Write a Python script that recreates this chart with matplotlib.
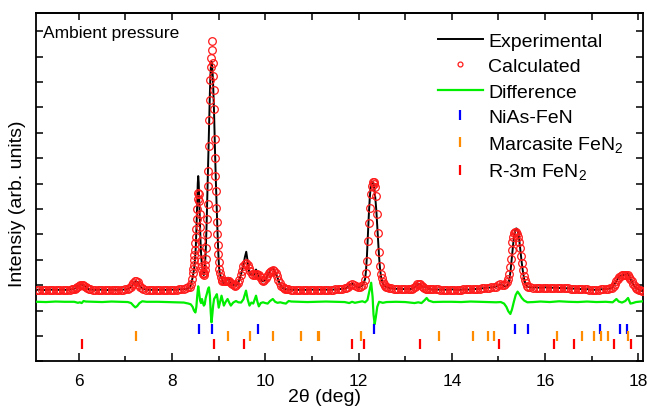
import matplotlib
matplotlib.use("Agg")
import matplotlib.pyplot as plt
from matplotlib.ticker import MultipleLocator

plt.rcParams['font.family'] = ['Liberation Sans', 'DejaVu Sans']
plt.rcParams['mathtext.default'] = 'regular'

# 2theta grid (deg), observed and calculated profiles (arb. units)
two_theta = [
    5.10, 5.15, 5.20, 5.25, 5.30, 5.35, 5.40, 5.45, 5.50, 5.55, 5.60, 5.65, 5.70, 5.75, 5.80, 5.85,
    5.88, 5.91, 5.94, 5.97, 6.00, 6.03, 6.06, 6.09, 6.12, 6.15, 6.18, 6.21, 6.24,
    6.30, 6.35, 6.40, 6.45, 6.50, 6.55, 6.60, 6.65, 6.70, 6.75, 6.80, 6.85, 6.90, 6.95, 7.00, 7.05,
    7.08, 7.11, 7.14, 7.17, 7.20, 7.23, 7.26, 7.29, 7.32, 7.35, 7.38,
    7.45, 7.50, 7.55, 7.60, 7.65, 7.70, 7.75, 7.80, 7.85, 7.90, 7.95, 8.00, 8.05, 8.10, 8.15, 8.20, 8.25, 8.30, 8.35,
    8.38, 8.40, 8.42,
    8.44, 8.45, 8.46, 8.47, 8.48, 8.49, 8.50, 8.51, 8.52, 8.53, 8.54, 8.55, 8.56, 8.57, 8.58, 8.59, 8.60, 8.61, 8.62, 8.63,
    8.64, 8.65, 8.66, 8.67, 8.68, 8.69, 8.70, 8.71, 8.72, 8.73, 8.74, 8.75, 8.76, 8.77, 8.78, 8.79, 8.80, 8.81, 8.82, 8.83,
    8.84, 8.85, 8.86, 8.87, 8.88, 8.89, 8.90, 8.91, 8.92, 8.93, 8.94, 8.95, 8.96, 8.97, 8.98, 8.99, 9.00, 9.01, 9.02,
    9.04, 9.06, 9.08,
    9.11, 9.14, 9.17, 9.20, 9.23, 9.26, 9.29, 9.32, 9.35, 9.38, 9.41, 9.44, 9.47, 9.50, 9.53, 9.56,
    9.59, 9.62, 9.65, 9.68, 9.71, 9.74, 9.77, 9.80, 9.83, 9.86, 9.89, 9.92, 9.95, 9.98, 10.01, 10.04,
    10.07, 10.10, 10.13, 10.16, 10.19, 10.22, 10.25, 10.28, 10.31, 10.34, 10.37, 10.40, 10.43, 10.46, 10.49,
    10.55, 10.60, 10.65, 10.70, 10.75, 10.80, 10.85, 10.90, 10.95, 11.00, 11.05, 11.10,
    11.15, 11.20, 11.25, 11.30, 11.35, 11.40, 11.45, 11.50, 11.55, 11.60, 11.65, 11.70,
    11.74, 11.78, 11.82, 11.86, 11.90, 11.94, 11.98, 12.02, 12.06, 12.10,
    12.14, 12.16, 12.18, 12.20, 12.22, 12.24, 12.26, 12.28, 12.30, 12.32, 12.34, 12.36,
    12.38, 12.40, 12.42, 12.44, 12.46, 12.48, 12.50, 12.52, 12.54, 12.56, 12.58, 12.60,
    12.65, 12.70, 12.75, 12.80, 12.85, 12.90, 12.95, 13.00, 13.05, 13.10,
    13.14, 13.17, 13.20, 13.23, 13.26, 13.29, 13.32, 13.35, 13.38, 13.41, 13.44, 13.47, 13.50,
    13.55, 13.60, 13.65, 13.70, 13.75, 13.80, 13.85, 13.90, 13.95, 14.00, 14.05, 14.10, 14.15, 14.20,
    14.25, 14.30, 14.35, 14.40, 14.45, 14.50, 14.55, 14.60, 14.65, 14.70, 14.75, 14.80, 14.85, 14.90,
    14.95, 14.99, 15.03, 15.07, 15.11, 15.15, 15.18, 15.20, 15.22, 15.24, 15.26, 15.28, 15.30, 15.32, 15.34,
    15.36, 15.38, 15.40, 15.42, 15.44, 15.46, 15.48, 15.50, 15.52, 15.54, 15.56, 15.58, 15.61, 15.64, 15.68,
    15.75, 15.80, 15.85, 15.90, 15.95, 16.00, 16.05, 16.10, 16.15, 16.20, 16.25, 16.30, 16.35, 16.40, 16.45, 16.50, 16.55,
    16.60, 16.65, 16.70, 16.75, 16.80, 16.85, 16.90, 16.95, 17.00, 17.05, 17.10, 17.15, 17.20, 17.25, 17.30, 17.35, 17.40,
    17.44, 17.47, 17.50, 17.53, 17.56, 17.59, 17.62, 17.65, 17.68, 17.71, 17.74, 17.77,
    17.80, 17.83, 17.86, 17.89, 17.92, 17.95, 17.98, 18.01, 18.04, 18.07, 18.10,
]

observed = [
    1.82, 1.83, 1.82, 1.81, 1.82, 1.82, 1.83, 1.82, 1.81, 1.82, 1.82, 1.83, 1.82, 1.82, 1.83, 1.84,
    1.85, 1.87, 1.90, 1.95, 1.99, 2.02, 2.03, 2.01, 1.97, 1.92, 1.88, 1.85, 1.84,
    1.83, 1.82, 1.82, 1.83, 1.82, 1.82, 1.81, 1.82, 1.82, 1.83, 1.82, 1.82, 1.83, 1.83, 1.84, 1.86,
    1.88, 1.92, 1.98, 2.06, 2.13, 2.16, 2.12, 2.03, 1.94, 1.88, 1.85,
    1.83, 1.82, 1.82, 1.83, 1.82, 1.82, 1.82, 1.83, 1.82, 1.82, 1.83, 1.83, 1.82, 1.83, 1.84, 1.84, 1.85, 1.86, 1.89,
    1.92, 2.00, 2.15,
    2.30, 2.40, 2.50, 2.62, 2.78, 3.00, 3.25, 3.60, 4.10, 4.70, 5.40, 6.00, 6.30, 6.05, 5.45, 4.80, 4.20, 3.70, 3.30, 3.00,
    2.82, 2.68, 2.55, 2.45, 2.40, 2.50, 2.70, 2.95, 3.30, 3.80, 4.40, 5.10, 5.80, 6.50, 7.20, 8.05, 8.85, 9.55, 10.15, 10.55,
    10.78, 10.80, 10.62, 10.30, 9.90, 9.40, 8.80, 8.00, 7.30, 6.60, 6.00, 5.40, 4.85, 4.30, 3.80, 3.30, 2.92, 2.66, 2.50,
    2.36, 2.30, 2.22,
    2.05, 2.12, 2.20, 2.30, 2.18, 2.00, 2.02, 2.02, 1.99, 2.00, 2.08, 2.20, 2.38, 2.58, 2.80, 3.10,
    3.32, 2.95, 2.55, 2.45, 2.42, 2.38, 2.45, 2.62, 2.50, 2.25, 2.25, 2.20, 2.15, 2.18, 2.25, 2.36,
    2.48, 2.56, 2.62, 2.68, 2.60, 2.48, 2.35, 2.20, 2.06, 1.96, 1.90, 1.86, 1.85, 1.84, 1.83,
    1.83, 1.82, 1.83, 1.82, 1.82, 1.83, 1.82, 1.82, 1.83, 1.83, 1.82, 1.82,
    1.83, 1.82, 1.83, 1.83, 1.82, 1.83, 1.83, 1.84, 1.84, 1.85, 1.86, 1.87,
    1.89, 1.95, 2.03, 2.07, 2.02, 1.96, 1.92, 1.93, 1.97, 2.06,
    2.25, 2.60, 3.20, 4.00, 4.80, 5.45, 5.90, 6.05, 6.08, 6.00, 5.75, 5.40,
    4.95, 4.35, 3.70, 3.10, 2.65, 2.35, 2.20, 2.08, 2.00, 1.96, 1.94, 1.92,
    1.90, 1.88, 1.87, 1.86, 1.86, 1.85, 1.85, 1.85, 1.85, 1.85,
    1.86, 1.88, 1.92, 1.98, 2.03, 2.06, 2.04, 1.98, 1.92, 1.92, 1.97, 1.92, 1.86,
    1.84, 1.83, 1.84, 1.83, 1.83, 1.84, 1.83, 1.82, 1.83, 1.84, 1.83, 1.83, 1.82, 1.83,
    1.84, 1.84, 1.83, 1.84, 1.85, 1.85, 1.86, 1.87, 1.88, 1.89, 1.90, 1.91, 1.92, 1.93,
    1.95, 1.99, 2.03, 2.03, 1.98, 1.95, 1.98, 2.02, 2.12, 2.30, 2.58, 2.95, 3.35, 3.70, 3.98,
    4.15, 4.24, 4.22, 4.10, 3.88, 3.55, 3.20, 2.88, 2.60, 2.36, 2.18, 2.06, 1.98, 1.94, 1.92,
    1.91, 1.92, 1.91, 1.90, 1.91, 1.92, 1.91, 1.91, 1.90, 1.91, 1.90, 1.89, 1.90, 1.89, 1.88, 1.89, 1.87,
    1.87, 1.86, 1.87, 1.85, 1.85, 1.84, 1.85, 1.83, 1.83, 1.82, 1.83, 1.83, 1.84, 1.85, 1.85, 1.86, 1.88,
    1.90, 1.98, 2.08, 2.18, 2.26, 2.33, 2.38, 2.39, 2.40, 2.42, 2.44, 2.48,
    2.38, 2.24, 2.15, 2.04, 1.96, 1.90, 1.86, 1.83, 1.80, 1.78, 1.77,
]

calculated = [
    1.82, 1.82, 1.82, 1.82, 1.82, 1.82, 1.82, 1.82, 1.82, 1.82, 1.82, 1.82, 1.82, 1.83, 1.83, 1.84,
    1.85, 1.87, 1.91, 1.95, 1.99, 2.02, 2.02, 2.00, 1.97, 1.92, 1.88, 1.85, 1.84,
    1.83, 1.83, 1.82, 1.82, 1.82, 1.82, 1.82, 1.82, 1.82, 1.82, 1.82, 1.82, 1.83, 1.83, 1.84, 1.86,
    1.88, 1.93, 2.01, 2.10, 2.16, 2.17, 2.12, 2.03, 1.94, 1.88, 1.85,
    1.83, 1.83, 1.82, 1.82, 1.82, 1.82, 1.82, 1.82, 1.82, 1.82, 1.83, 1.83, 1.83, 1.83, 1.84, 1.85, 1.86, 1.88, 1.92,
    1.95, 2.05, 2.25,
    2.50, 2.65, 2.80, 3.00, 3.20, 3.40, 3.65, 3.90, 4.20, 4.60, 5.00, 5.40, 5.65, 5.60, 5.30, 4.80, 4.30, 3.75, 3.30, 2.95,
    2.75, 2.62, 2.50, 2.45, 2.42, 2.50, 2.62, 2.80, 3.05, 3.45, 4.00, 4.60, 5.20, 5.90, 6.50, 7.50, 8.50, 9.30, 10.10, 10.60,
    10.95, 11.60, 11.25, 10.75, 10.25, 9.70, 8.95, 7.75, 7.00, 6.30, 5.70, 5.05, 4.50, 4.00, 3.60, 3.25, 2.90, 2.65, 2.50,
    2.32, 2.22, 2.17,
    2.15, 2.15, 2.17, 2.18, 2.16, 2.10, 2.04, 2.00, 1.99, 2.02, 2.10, 2.22, 2.40, 2.58, 2.74, 2.84,
    2.86, 2.80, 2.68, 2.55, 2.45, 2.40, 2.40, 2.44, 2.46, 2.42, 2.32, 2.22, 2.18, 2.20, 2.27, 2.37,
    2.47, 2.54, 2.58, 2.59, 2.56, 2.48, 2.36, 2.22, 2.08, 1.98, 1.92, 1.88, 1.86, 1.85, 1.84,
    1.83, 1.83, 1.83, 1.82, 1.82, 1.82, 1.82, 1.82, 1.82, 1.82, 1.82, 1.82,
    1.82, 1.82, 1.83, 1.83, 1.83, 1.83, 1.83, 1.84, 1.84, 1.85, 1.86, 1.88,
    1.90, 1.95, 2.02, 2.06, 2.03, 1.97, 1.93, 1.93, 1.96, 2.03,
    2.20, 2.48, 2.95, 3.75, 4.45, 5.05, 5.60, 5.90, 6.05, 6.08, 6.00, 5.85,
    5.50, 4.80, 4.05, 3.30, 2.75, 2.45, 2.28, 2.12, 2.04, 1.98, 1.95, 1.93,
    1.91, 1.89, 1.87, 1.86, 1.86, 1.86, 1.85, 1.85, 1.85, 1.85,
    1.86, 1.88, 1.92, 1.98, 2.04, 2.07, 2.05, 1.99, 1.93, 1.89, 1.87, 1.86, 1.85,
    1.84, 1.84, 1.84, 1.84, 1.83, 1.83, 1.83, 1.83, 1.83, 1.83, 1.83, 1.83, 1.83, 1.83,
    1.84, 1.84, 1.84, 1.84, 1.85, 1.85, 1.86, 1.87, 1.88, 1.89, 1.90, 1.91, 1.92, 1.93,
    1.95, 2.00, 2.04, 2.03, 2.02, 2.05, 2.12, 2.25, 2.45, 2.72, 3.05, 3.40, 3.70, 3.92, 4.06,
    4.10, 4.08, 4.02, 3.92, 3.72, 3.45, 3.15, 2.88, 2.60, 2.38, 2.20, 2.08, 1.98, 1.94, 1.92,
    1.91, 1.91, 1.91, 1.91, 1.91, 1.91, 1.91, 1.91, 1.90, 1.90, 1.90, 1.89, 1.89, 1.89, 1.88, 1.88, 1.87,
    1.87, 1.86, 1.86, 1.85, 1.85, 1.84, 1.84, 1.83, 1.83, 1.83, 1.83, 1.83, 1.84, 1.84, 1.85, 1.86, 1.88,
    1.90, 1.96, 2.06, 2.17, 2.26, 2.33, 2.37, 2.40, 2.41, 2.42, 2.42, 2.40,
    2.34, 2.26, 2.16, 2.05, 1.96, 1.90, 1.86, 1.83, 1.80, 1.78, 1.77,
]

# difference curve (offset), read on its own grid
diff_theta = [
    5.10, 5.30, 5.50, 5.70, 5.90, 5.98, 6.02, 6.06, 6.10, 6.15, 6.30, 6.50, 6.70, 6.90, 7.05,
    7.12, 7.17, 7.21, 7.25, 7.30, 7.36, 7.45, 7.70, 7.90, 8.10, 8.25, 8.35, 8.40, 8.44, 8.47,
    8.50, 8.52, 8.54, 8.56, 8.58, 8.60, 8.62, 8.64, 8.66, 8.68, 8.70, 8.72, 8.75, 8.77, 8.79,
    8.81, 8.83, 8.845, 8.86, 8.88, 8.90, 8.93, 8.96, 8.98, 9.00, 9.03, 9.06, 9.09, 9.11, 9.15,
    9.19, 9.23, 9.26, 9.31, 9.37, 9.42, 9.48, 9.53, 9.585, 9.62, 9.66, 9.70, 9.74, 9.80, 9.83,
    9.86, 9.90, 9.95, 10.00, 10.05, 10.10, 10.16, 10.21, 10.26, 10.32, 10.38, 10.44, 10.50, 10.56, 10.70,
    10.90, 11.10, 11.30, 11.50, 11.70, 11.80, 11.86, 11.92, 12.00, 12.08, 12.14, 12.19, 12.23, 12.27, 12.30,
    12.32, 12.345, 12.37, 12.40, 12.44, 12.52, 12.60, 12.80, 13.00, 13.20, 13.28, 13.35, 13.42, 13.46, 13.50,
    13.60, 13.80, 14.00, 14.20, 14.40, 14.60, 14.80, 14.95, 15.05, 15.12, 15.17, 15.21, 15.255, 15.29, 15.33,
    15.37, 15.41, 15.45, 15.50, 15.55, 15.62, 15.75, 15.90, 16.10, 16.30, 16.50, 16.70, 16.90, 17.10, 17.30,
    17.45, 17.53, 17.58, 17.65, 17.72, 17.78, 17.83, 17.88, 17.95, 18.05, 18.10,
]
difference = [
    1.35, 1.34, 1.36, 1.35, 1.35, 1.31, 1.33, 1.30, 1.38, 1.36, 1.35, 1.34, 1.36, 1.35, 1.34,
    1.30, 1.20, 1.13, 1.18, 1.30, 1.37, 1.35, 1.35, 1.34, 1.33, 1.32, 1.28, 1.25, 1.15, 1.00,
    0.93, 1.15, 1.60, 1.96, 1.70, 1.40, 1.30, 1.46, 1.32, 1.20, 1.25, 1.50, 1.70, 1.85, 1.92,
    1.60, 0.90, 0.54, 0.80, 1.20, 1.46, 1.55, 1.65, 1.40, 1.12, 1.35, 1.59, 1.35, 1.20, 1.35,
    1.46, 1.30, 1.20, 1.32, 1.38, 1.33, 1.32, 1.45, 1.79, 1.45, 1.20, 1.32, 1.28, 1.59, 1.35,
    1.17, 1.30, 1.33, 1.30, 1.28, 1.38, 1.46, 1.35, 1.31, 1.33, 1.30, 1.28, 1.38, 1.36, 1.35,
    1.34, 1.35, 1.36, 1.35, 1.34, 1.30, 1.35, 1.31, 1.34, 1.37, 1.33, 1.42, 1.75, 2.10, 1.55,
    0.85, 0.47, 0.75, 1.15, 1.35, 1.31, 1.34, 1.35, 1.34, 1.30, 1.33, 1.30, 1.42, 1.50, 1.40,
    1.34, 1.35, 1.35, 1.34, 1.36, 1.35, 1.34, 1.33, 1.34, 1.28, 1.15, 0.98, 0.87, 1.05, 1.35,
    1.62, 1.75, 1.65, 1.50, 1.40, 1.33, 1.34, 1.36, 1.34, 1.37, 1.35, 1.34, 1.36, 1.34, 1.35,
    1.33, 1.46, 1.36, 1.32, 1.38, 1.50, 1.28, 1.30, 1.34, 1.36, 1.37,
]

# Bragg reflection positions (deg)
nias_fen = [8.57, 8.85, 9.84, 12.33, 15.36, 15.63, 17.18, 17.61, 17.75]
marcasite_fen2 = [7.22, 9.20, 9.67, 10.16, 10.76, 11.12, 11.16, 12.05, 13.72, 14.46,
                  14.77, 14.90, 16.25, 16.80, 17.05, 17.19, 17.36, 17.77]
r3m_fen2 = [6.06, 8.89, 9.55, 11.85, 12.12, 13.31, 15.02, 16.20, 16.61, 17.48, 17.84]
tick_rows = [0.28, 0.0, -0.31]

fig = plt.figure(figsize=(6.47, 4.10), dpi=100)
ax = fig.add_axes([0.0556, 0.1159, 0.9382, 0.85])

ax.plot(two_theta, observed, color='black', lw=1.4, label='Experimental', zorder=2)
ax.plot(two_theta, calculated, ls='none', marker='o', ms=5.5, mfc='none',
        mec='#ff1a1a', mew=0.9, label='Calculated', zorder=3)
ax.plot(diff_theta, difference, color='#00ee00', lw=1.6, label='Difference', zorder=4)

for pos, row, col, lab in [(nias_fen, tick_rows[0], '#0000ff', 'NiAs-FeN'),
                           (marcasite_fen2, tick_rows[1], '#ff8c00', 'Marcasite FeN$_2$'),
                           (r3m_fen2, tick_rows[2], '#ff0000', 'R-3m FeN$_2$')]:
    ax.plot(pos, [row] * len(pos), ls='none', marker='|', ms=7, mew=1.6,
            color=col, label=lab, zorder=4)

ax.set_xlim(5.08, 18.1)
ax.set_ylim(-1.0, 12.72)
ax.xaxis.set_major_locator(MultipleLocator(2))
ax.xaxis.set_minor_locator(MultipleLocator(1))
ax.yaxis.set_major_locator(MultipleLocator(1))
ax.set_yticklabels([])
ax.tick_params(axis='x', which='major', direction='in', length=6, width=1.1,
               labelsize=12.5, pad=8)
ax.tick_params(axis='x', which='minor', direction='in', length=3.5, width=1.1)
ax.tick_params(axis='y', which='major', direction='in', length=5, width=1.1,
               right=True)
top = ax.secondary_xaxis('top')
top.xaxis.set_major_locator(MultipleLocator(1))
top.tick_params(direction='in', length=5, width=1.1, labeltop=False)
for s in list(ax.spines.values()) + list(top.spines.values()):
    s.set_linewidth(1.3)

ax.set_xlabel('2θ (deg)', fontsize=14)
ax.xaxis.set_label_coords(0.475, -0.075)
ax.set_ylabel('Intensiy (arb. units)', fontsize=14)
ax.yaxis.set_label_coords(-0.016, 0.455)

ax.text(0.012, 0.945, 'Ambient pressure', transform=ax.transAxes,
        fontsize=12.5, va='center', ha='left')

leg = ax.legend(loc='upper left', bbox_to_anchor=(0.662, 0.945), frameon=False,
                fontsize=14, handlelength=2.3, handletextpad=0.3,
                labelspacing=0.4, borderaxespad=0, borderpad=0)
leg.legend_handles[1].set_markersize(3.5)

fig.savefig('out.png', dpi=100)
